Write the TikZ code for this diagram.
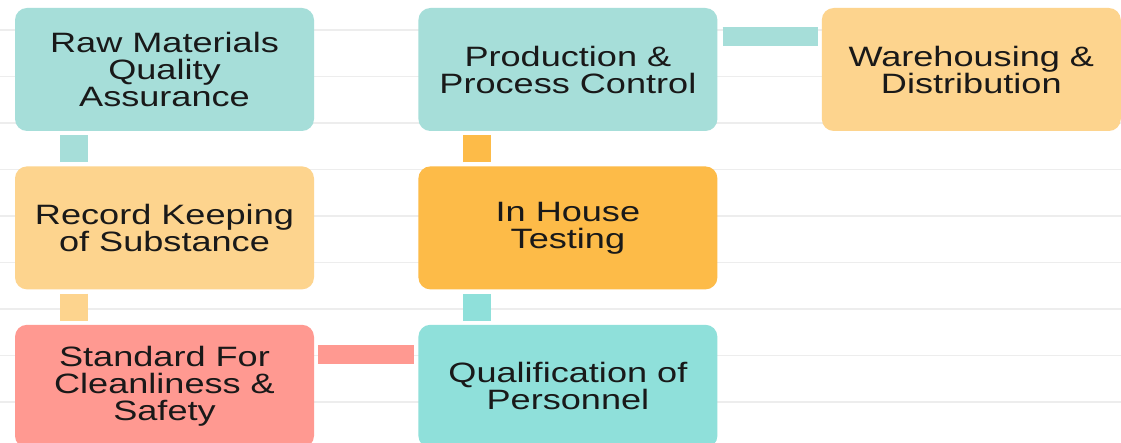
\documentclass[tikz,border=0pt]{standalone}
\usepackage{fontspec}
\setmainfont{Liberation Sans}[FakeStretch=1.29]
\usetikzlibrary{positioning}
\definecolor{paleteal}{HTML}{A6DED9}
\definecolor{brightteal}{HTML}{8FE0DA}
\definecolor{paleorange}{HTML}{FDD48E}
\definecolor{deeporange}{HTML}{FDBB48}
\definecolor{salmon}{HTML}{FF9991}

\begin{document}
\begin{tikzpicture}[
                node distance=35pt and 104pt,
                box/.style={fill=#1,rounded corners=12pt,minimum width=299pt,minimum height=123pt,
                            inner sep=0pt,align=center,text=black!90,font=\fontsize{28}{27}\selectfont},
                vlink/.style={line width=28pt,draw=#1},
                hlink/.style={line width=19pt,draw=#1}
            ]
                \useasboundingbox (0,0) rectangle (1121pt,-443pt);
                \fill[white] (0,0) rectangle (1121pt,-443pt);
                \foreach \y in {30,76.5,...,403}
                    \draw[black!7,line width=1.2pt] (0,-\y*1pt) -- (1121pt,-\y*1pt);
                \node (raw)  [box=paleteal] at (164.5pt,-69.5pt) {Raw Materials\\Quality\\Assurance};
                \node (prod) [box=paleteal,right=of raw]   {Production \&\\Process Control};
                \node (ware) [box=paleorange,right=of prod] {Warehousing \&\\Distribution};
                \node (rec)  [box=paleorange,below=of raw]  {Record Keeping\\of Substance};
                \node (test) [box=deeporange,below=of prod] {In House\\Testing};
                \node (std)  [box=salmon,below=of rec]      {Standard For\\Cleanliness \&\\Safety};
                \node (qual) [box=brightteal,below=of test] {Qualification of\\Personnel};
                \draw[vlink=paleteal]   ([shift={(59pt,-4pt)}]raw.south west) -- ([shift={(59pt,4pt)}]rec.north west);
                \draw[vlink=paleorange] ([shift={(59pt,-4pt)}]rec.south west) -- ([shift={(59pt,4pt)}]std.north west);
                \draw[hlink=salmon]     ([shift={(4pt,-30pt)}]std.north east) -- ([shift={(-4pt,-30pt)}]qual.north west);
                \draw[vlink=brightteal] ([shift={(59pt,4pt)}]qual.north west) -- ([shift={(59pt,-4pt)}]test.south west);
                \draw[vlink=deeporange] ([shift={(59pt,4pt)}]test.north west) -- ([shift={(59pt,-4pt)}]prod.south west);
                \draw[hlink=paleteal]   ([shift={(5pt,-28.5pt)}]prod.north east) -- ([shift={(-4pt,-28.5pt)}]ware.north west);
            \end{tikzpicture}
\end{document}
